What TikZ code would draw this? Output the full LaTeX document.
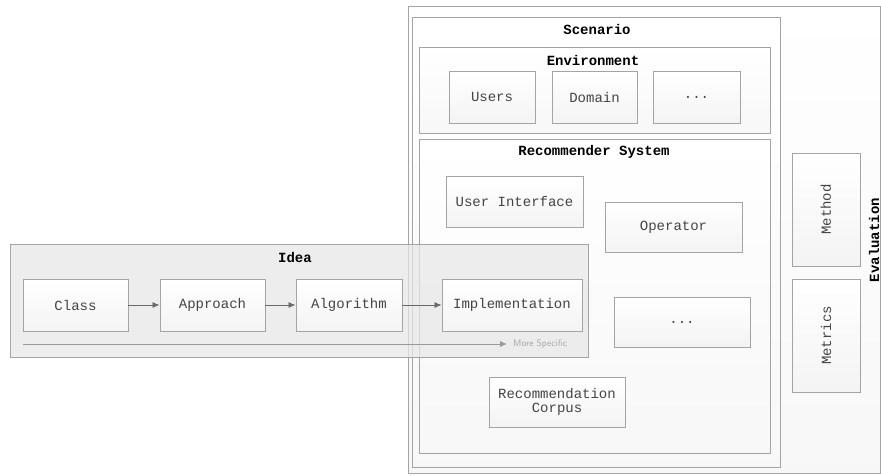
\documentclass[tikz,border=0pt]{standalone}
\usepackage{fontspec}
\setmainfont{Liberation Sans}
\setmonofont{Liberation Mono}
\usepackage{xcolor}
\usetikzlibrary{arrows.meta}

\definecolor{edgegray}{HTML}{A4A4A4}
\definecolor{textgray}{HTML}{444444}
\definecolor{ideagray}{HTML}{E8E8E8}

\tikzset{
  frame/.style={draw=edgegray, line width=0.9pt, top color=white, bottom color=gray!6},
  part/.style={draw=edgegray, line width=0.9pt, top color=white, bottom color=gray!9,
    font=\ttfamily\fontsize{14}{16}\selectfont, text=textgray, align=center, inner sep=0pt},
  title/.style={font=\ttfamily\bfseries\fontsize{14}{16}\selectfont, text=black},
  flow/.style={draw=textgray!80, line width=0.8pt, -{Latex[length=7pt,width=6pt]}}
}

\begin{document}
\begin{tikzpicture}[x=1pt, y=-1pt]
\useasboundingbox[fill=white] (0,0) rectangle (881,475);

% containers
\draw[frame] (408,6) rectangle (880.5,473);
\draw[frame] (412,17) rectangle (780,467);
\draw[frame] (419,47) rectangle (770,133);
\draw[frame] (419,139) rectangle (770,453);

\node[title] (scenario) at (597,29) {Scenario};
\node[title] (environment) at (593,60) {Environment};
\node[title] (recsys) at (594,152) {Recommender System};
\node[title, rotate=90] (evaluation) at (874,240) {Evaluation};

% environment
\node[part, minimum width=86, minimum height=52] (users) at (492,97) {Users};
\node[part, minimum width=85, minimum height=52] (domain) at (594.5,97) {Domain};
\node[part, minimum width=87, minimum height=52] (envmore) at (696.5,97) {...};

% recommender system
\node[part, minimum width=137, minimum height=51] (ui) at (514.5,201.5) {User Interface};
\node[part, minimum width=137, minimum height=50] (operator) at (673.5,227) {Operator};
\node[part, minimum width=136, minimum height=50] (sysmore) at (682,322) {...};
\node[part, minimum width=136, minimum height=50] (corpus) at (557,402) {Recommendation\\[-2pt]Corpus};

% evaluation
\node[part, minimum width=68, minimum height=113] (method) at (826,209.5) {\rotatebox{90}{Method}};
\node[part, minimum width=68, minimum height=113] (metrics) at (826,335.5) {\rotatebox{90}{Metrics}};

% idea
\draw[draw=edgegray, line width=0.9pt, fill=ideagray, fill opacity=0.75] (10,244) rectangle (588,357);
\node[title] (idea) at (295,257) {Idea};

\node[part, minimum width=105, minimum height=52] (class) at (75.5,305) {Class};
\node[part, minimum width=105, minimum height=52] (approach) at (212.5,305) {Approach};
\node[part, minimum width=106, minimum height=52] (algorithm) at (349,305) {Algorithm};
\node[part, minimum width=140, minimum height=52] (impl) at (512,305) {Implementation};

\draw[flow] (class) -- (approach);
\draw[flow] (approach) -- (algorithm);
\draw[flow] (algorithm) -- (impl);

\coordinate (specstart) at (23,344);
\coordinate (specend) at (507,344);
\draw[draw=gray!80, line width=0.8pt, -{Latex[length=7pt,width=6pt]}] (specstart) -- (specend);
\node[anchor=west, inner sep=0pt, font=\sffamily\fontsize{9.5}{11}\selectfont, text=gray!70] (specific) at (513,344) {More Specific};
\end{tikzpicture}
\end{document}
